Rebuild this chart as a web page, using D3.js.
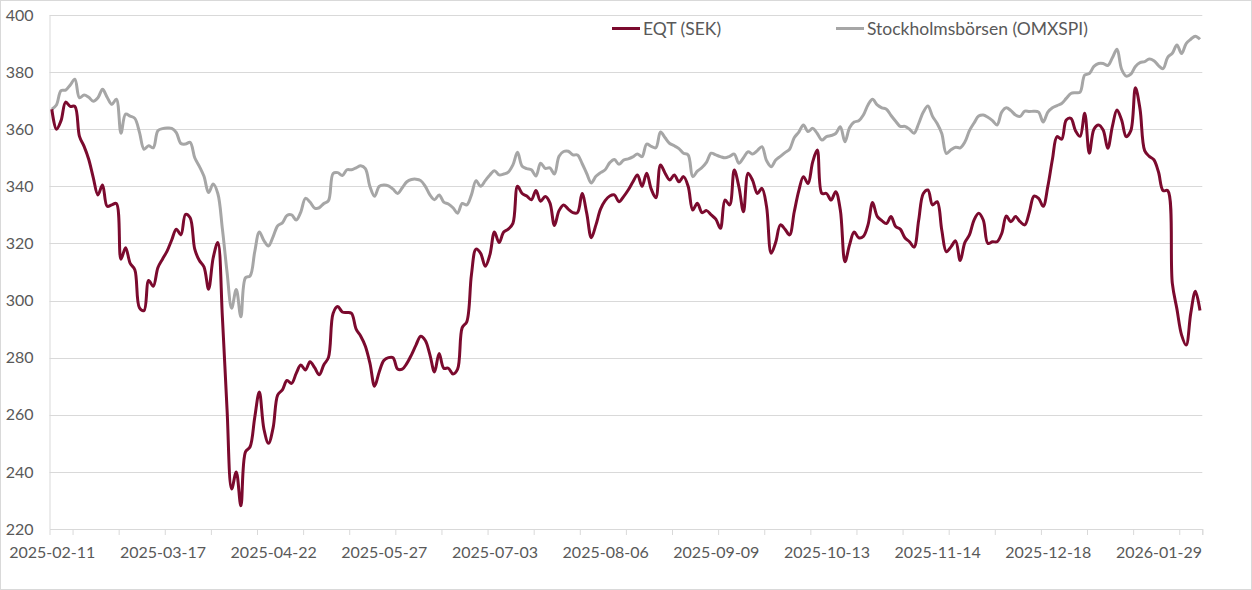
<!DOCTYPE html>
<html>
<head>
<meta charset="utf-8">
<script src="https://cdn.jsdelivr.net/npm/d3@7"></script>
<style>
  html, body { margin: 0; padding: 0; background: #fff; }
  svg text { font-family: Lato, "Open Sans", sans-serif; fill: #595959; }
</style>
</head>
<body>
<svg id="chart" width="1252" height="590"></svg>
<script>
// ---- data ----
const seriesNames = ["EQT (SEK)", "Stockholmsbörsen (OMXSPI)"];
const tickLabels = ["2025-02-11","2025-03-17","2025-04-22","2025-05-27","2025-07-03","2025-08-06","2025-09-09","2025-10-13","2025-11-14","2025-12-18","2026-01-29"];
const labelEvery = 24;   // trading days between date labels
const yTicks = [220,240,260,280,300,320,340,360,380,400];

const eqt = [
 367,360,363,369.5,368,368,357.5,354,349.5,343,
 337,340.5,333,333.5,334,314.5,318.5,313,310.8,297.5,
 296.5,307,305,311.5,314.5,317.3,321.2,325,323,330.2,
 329,318,314,311.8,304,315,320.3,294,262,234,
 240,228.1,247,248.8,259,268,255,250,255.5,267,
 268.7,272,271,274.5,277.4,275.7,278.6,276.5,274,277.5,
 280.1,295.5,297.9,296,295.8,295.5,290,287.5,284,278,
 270,275,279,280,280,276,276,278,281,284.5,
 287.5,286,281,275,281.5,276.3,276.3,274.3,276,290.5,
 292.6,309,318,316.5,312,316,324,320.3,324,325,
 327,340,337.5,336.6,335.3,338.5,334.8,336.4,334.3,326.3,
 331.5,333.5,332,330.8,330.8,337.5,330.6,322,326.5,332,
 335,336.6,337,334.6,336.4,338.7,341.5,344,340,344.6,
 339,336,347.5,344.6,342.2,344,341.6,343.4,340,331.7,
 334.1,330.8,331.5,330,328.5,325.3,335.2,333.5,345.7,339.9,
 331.1,344.6,342,337.5,339.3,332.9,316.6,320.5,326.5,325,
 323,331,338.5,343.4,341,348.5,352.7,337.5,337.5,335.2,
 338.1,331.7,313.6,319.5,324,322,322.5,326.5,334.3,329.5,
 328,327,329.4,325.9,325,322,320.6,318.7,328.2,337.5,
 338.7,333.5,334.6,324.7,317.1,318.8,320.9,314,320.3,323,
 328.2,330.6,328.2,320,320.6,320.6,323.5,329.6,327.6,329.4,
 327.6,326.5,331,336.6,335.8,333,340,349.5,357.4,356.5,
 363.2,363.8,359.5,357.5,365.6,351.6,360,361.5,359.7,353.3,
 361,366.7,363.2,357.4,359.5,374.5,367,352.5,350.5,349.3,
 345,338.5,338.5,306,297,288,284.4,295.6,303.3,296.5
];

const omxspi = [
 367,368.5,373.5,373.7,375.5,377.5,371,372,371.2,369.8,
 371,374,371.2,368.7,370.5,358.6,365.3,364.6,363.8,359,
 353,354.2,353.5,359.5,360.2,360.4,360.3,358.8,355,354.8,
 355.4,350,347,343.5,337.8,340.8,337.5,325,310,297.3,
 303.9,294.3,308,308.6,317,324,321,319.1,322.4,326.2,
 327.2,329.8,330,328.2,331,335.8,334.5,332.4,332.5,334,
 335,344.5,344.8,343.8,345.8,345.8,346.5,347.2,346.2,339.9,
 336.5,340,340.5,340.2,339,337.5,339.5,341.6,342.4,342.5,
 342,340,337,335.3,337,334.5,333.8,332.5,330.6,334,
 333.5,337,342,340,342,344,345.5,344,344.3,345,
 347.5,351.9,347,346.2,345.8,343.6,348.1,346.3,346.5,344.3,
 350.5,352.2,352.3,351,351,348,344.5,341.2,343.5,344.8,
 345.8,348.3,349.4,347.7,349.2,349.6,350.3,351.3,350.4,354.8,
 354,353.5,359,357,355,354.2,353.2,351.6,351,343.4,
 345.3,346.6,348.5,351.6,351,350.4,350,350.5,351.3,348.1,
 350,352.1,351.3,352.5,353.9,349,346.9,349.2,350.5,351.8,
 353,357,359,361.5,359.2,360.3,358.5,356.2,357.4,357.8,
 358.5,360.9,355.6,360.5,362.5,363,365,368.5,370.5,368.5,
 367.5,367,364.8,362.8,361,361,360,358.6,362,366,
 368.1,364.5,362,358.5,351.5,352.8,353.7,353.5,355.5,359.5,
 362.2,364.6,365,364.2,363,361.5,366,367.5,366.5,365,
 364.5,366.3,366.2,366.3,366,362.5,366,367.5,368.3,369,
 370.8,372.5,372.8,373,379,379.5,382,383,383,382.3,
 385,388,381,378.6,379.3,382,383.3,383.7,384.6,384,
 382.3,381.2,385.2,386.6,389.5,386.5,390,391.5,392.6,391.5
];

// ---- layout ----
const W = 1252, H = 590;
const plot = { left: 49.5, right: 1202.3, top: 15, bottom: 529 };
const colors = { eqt: "#7b0a2e", omx: "#a6a6a6", grid: "#d9d9d9", text: "#595959" };

const svg = d3.select("#chart");
const N = eqt.length;

const x = d3.scaleLinear().domain([0, N]).range([plot.left, plot.right]);
const y = d3.scaleLinear().domain([220, 400]).range([plot.bottom, plot.top]);

// outer border
svg.append("rect").attr("x", 0.5).attr("y", 0.5).attr("width", W - 1).attr("height", H - 1)
  .attr("fill", "#fff").attr("stroke", colors.grid).attr("stroke-width", 1);

// gridlines
svg.append("g").selectAll("line").data(yTicks.filter(v => v !== 220)).join("line")
  .attr("x1", plot.left).attr("x2", plot.right)
  .attr("y1", d => Math.round(y(d)) + 0.5).attr("y2", d => Math.round(y(d)) + 0.5)
  .attr("stroke", colors.grid).attr("stroke-width", 1);

// y axis
const yAxis = d3.axisLeft(y).tickValues(yTicks).tickSize(0).tickPadding(16);
const gy = svg.append("g").attr("transform", `translate(${plot.left},0)`).call(yAxis);
gy.select(".domain").attr("stroke", colors.grid);
gy.selectAll("text").style("font-size", "16px").attr("fill", colors.text);

// x axis tick marks (every 10 categories, offset by 5) + end
const tickPos = d3.range(5, N, 10).concat([N]);
const xTickAxis = d3.axisBottom(x).tickValues(tickPos).tickSize(6).tickFormat("");
const gxt = svg.append("g").attr("transform", `translate(0,${plot.bottom})`).call(xTickAxis);
gxt.select(".domain").attr("stroke", colors.grid);
gxt.selectAll(".tick line").attr("stroke", colors.grid);

// x axis labels centered on categories 0, 24, 48, ...
const labelPos = tickLabels.map((_, k) => k * labelEvery + 0.5);
const xLabelAxis = d3.axisBottom(x).tickValues(labelPos).tickSize(0).tickPadding(18)
  .tickFormat((d, k) => tickLabels[k]);
const gxl = svg.append("g").attr("transform", `translate(0,${plot.bottom})`).call(xLabelAxis);
gxl.select(".domain").remove();
gxl.selectAll("text").style("font-size", "16px").attr("fill", colors.text);

// lines
const line = d3.line().x((d, i) => x(i + 0.5)).y(d => y(d)).curve(d3.curveCatmullRom.alpha(0.5));
svg.append("path").datum(omxspi).attr("d", line).attr("fill", "none")
  .attr("stroke", colors.omx).attr("stroke-width", 3).attr("stroke-linejoin", "round");
svg.append("path").datum(eqt).attr("d", line).attr("fill", "none")
  .attr("stroke", colors.eqt).attr("stroke-width", 3).attr("stroke-linejoin", "round");

// legend
const legend = [
  { name: seriesNames[0], color: colors.eqt, x0: 612 },
  { name: seriesNames[1], color: colors.omx, x0: 836 }
];
const lg = svg.append("g");
legend.forEach(l => {
  lg.append("line").attr("x1", l.x0).attr("x2", l.x0 + 28).attr("y1", 28.5).attr("y2", 28.5)
    .attr("stroke", l.color).attr("stroke-width", 3);
  lg.append("text").attr("x", l.x0 + 31).attr("y", 28.5).attr("dy", "0.35em")
    .style("font-size", "17.5px").attr("fill", colors.text).text(l.name);
});
</script>
</body>
</html>
